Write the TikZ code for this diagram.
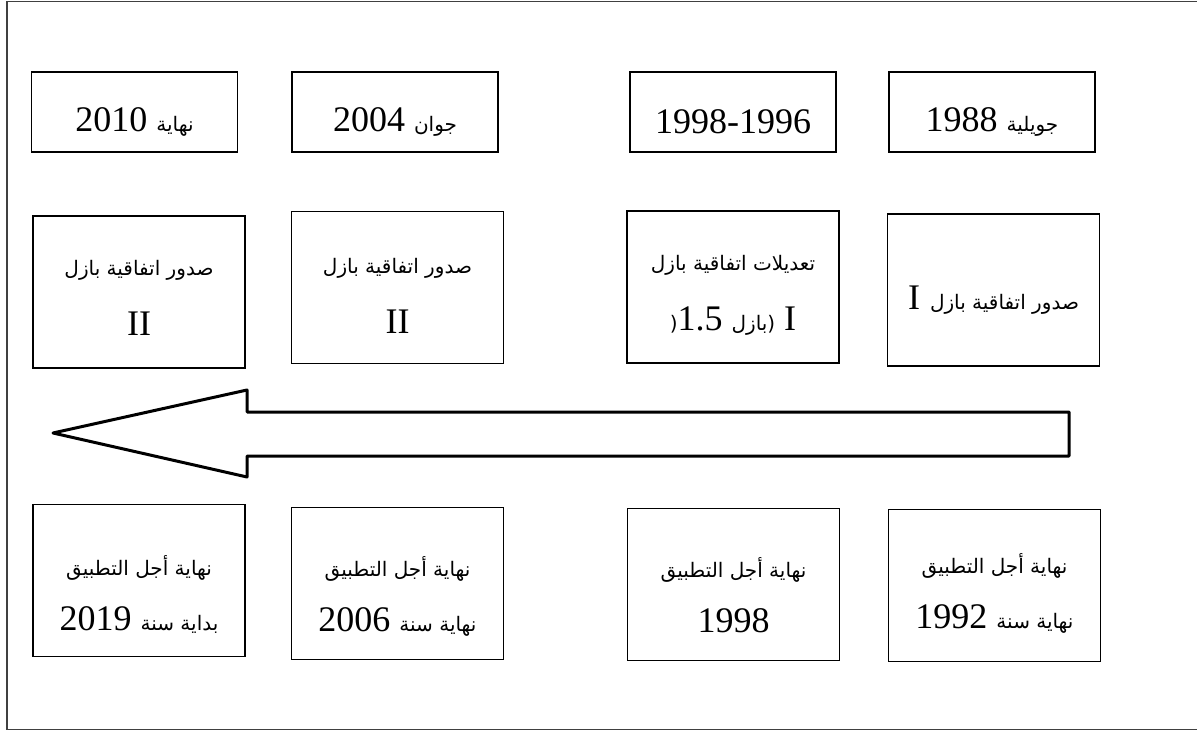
\documentclass[tikz,border=0pt]{standalone}
\usepackage{fontspec}
\setmainfont{Liberation Serif}
\newfontfamily\ar[Script=Arabic]{DejaVu Sans}
\TeXXeTstate=1
\tikzset{
  yearbox/.style={draw, line width=0.75pt, inner sep=0pt, minimum width=103pt, minimum height=40pt},
  bigbox/.style={draw, line width=0.75pt, inner sep=0pt, minimum width=106pt, minimum height=76pt},
  yeartext/.style={inner sep=0pt, font=\fontsize{18}{20}\selectfont},
  midtext/.style={inner sep=0pt, align=center, font=\fontsize{18}{30}\selectfont},
  lowtext/.style={inner sep=0pt, align=center, font=\fontsize{18}{27.5}\selectfont},
  bigarrow/.style={draw, line width=1.5pt, line join=round},
  frameline/.style={draw=black!75, line width=0.7pt}
}
\newcommand{\AR}[1]{{\ar\fontsize{10}{12}\selectfont\beginR #1\endR}}
\newcommand{\ARp}{{\ar\fontsize{10}{12}\selectfont(}}
\begin{document}
\begin{tikzpicture}[x=0.5pt,y=-0.5pt]
\useasboundingbox (0,0) rectangle (1197,731);
\draw[frameline] (1197,1.5) -- (7,1.5) -- (7,729.5) -- (1197,729.5);
% top row
\node[yearbox] (t1) at (134.5,112) {};
\node[yearbox] (t2) at (395,112) {};
\node[yearbox] (t3) at (733,112) {};
\node[yearbox] (t4) at (992,112) {};
\node[yeartext] (t1t) at (134.5,122) {2010 \AR{نهاية}};
\node[yeartext] (t2t) at (395,122) {2004 \AR{جوان}};
\node[yeartext] (t3t) at (733,122) {1998-1996};
\node[yeartext] (t4t) at (992,122) {1988 \AR{جويلية}};
% middle row
\node[bigbox] (m1) at (139,292) {};
\node[bigbox] (m2) at (397.5,287.5) {};
\node[bigbox] (m3) at (733,287) {};
\node[bigbox] (m4) at (993.5,290) {};
\node[midtext] (m1t) at (139,298) {\AR{صدور اتفاقية بازل}\\II};
\node[midtext] (m2t) at (397.5,296) {\AR{صدور اتفاقية بازل}\\II};
\node[midtext] (m3t) at (733,295.5) {\AR{تعديلات اتفاقية بازل}\\\ARp1.5 \AR{بازل}\ARp\ I};
\node[midtext] (m4t) at (993.5,300) {I\hspace{5pt}\AR{صدور اتفاقية بازل}};
% arrow
\draw[bigarrow] (53,433) -- (247,390) -- (247,412) -- (1069,412) -- (1069,456) -- (247,456) -- (247,477) -- cycle;
% bottom row
\node[bigbox] (b1) at (139,580.5) {};
\node[bigbox] (b2) at (397.5,583.5) {};
\node[bigbox] (b3) at (733.5,584.5) {};
\node[bigbox] (b4) at (994.5,585.5) {};
\node[lowtext] (b1t) at (139,594) {\AR{نهاية أجل التطبيق}\\2019 \AR{بداية سنة}};
\node[lowtext] (b2t) at (397.5,596) {\AR{نهاية أجل التطبيق}\\2006 \AR{نهاية سنة}};
\node[lowtext] (b3t) at (733.5,595) {\AR{نهاية أجل التطبيق}\\1998};
\node[lowtext] (b4t) at (994.5,593.5) {\AR{نهاية أجل التطبيق}\\1992 \AR{نهاية سنة}};
\end{tikzpicture}
\end{document}
